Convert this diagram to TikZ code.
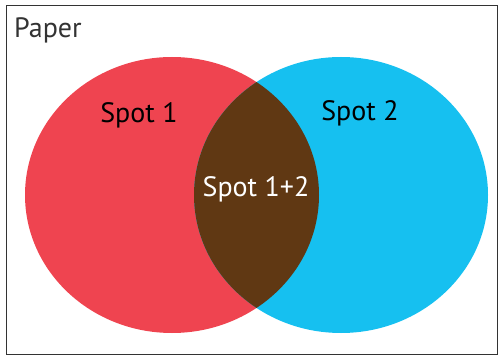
\documentclass[tikz,border=0pt]{standalone}
\usepackage{fontspec}
\setmainfont{PT Sans}
\definecolor{spotred}{HTML}{EF4450}
\definecolor{spotblue}{HTML}{16C0F0}
\definecolor{spotbrown}{HTML}{603813}
\definecolor{frame}{HTML}{333333}
\begin{document}
\begin{tikzpicture}[x=1pt,y=-1pt,
  lbl/.style={inner sep=0pt,font=\fontsize{28}{31}\selectfont}]
\useasboundingbox (0,0) rectangle (501,358);
\draw[frame,line width=1pt] (6,6) rectangle (497,354);
\fill[spotred] (172,195) ellipse [x radius=147,y radius=138];
\fill[spotblue] (341,195) ellipse [x radius=147,y radius=138];
\begin{scope}
  \clip (172,195) ellipse [x radius=147,y radius=138];
  \fill[spotbrown] (341,195) ellipse [x radius=147,y radius=138];
\end{scope}
\node[lbl,anchor=base west,text=frame] (paper) at (14,38) {Paper};
\node[lbl,anchor=base,text=black] (s1) at (139,123) {Spot 1};
\node[lbl,anchor=base,text=black] (s2) at (360,121) {Spot 2};
\node[lbl,anchor=base,text=white] (s12) at (256,197) {Spot 1+2};
\end{tikzpicture}
\end{document}
